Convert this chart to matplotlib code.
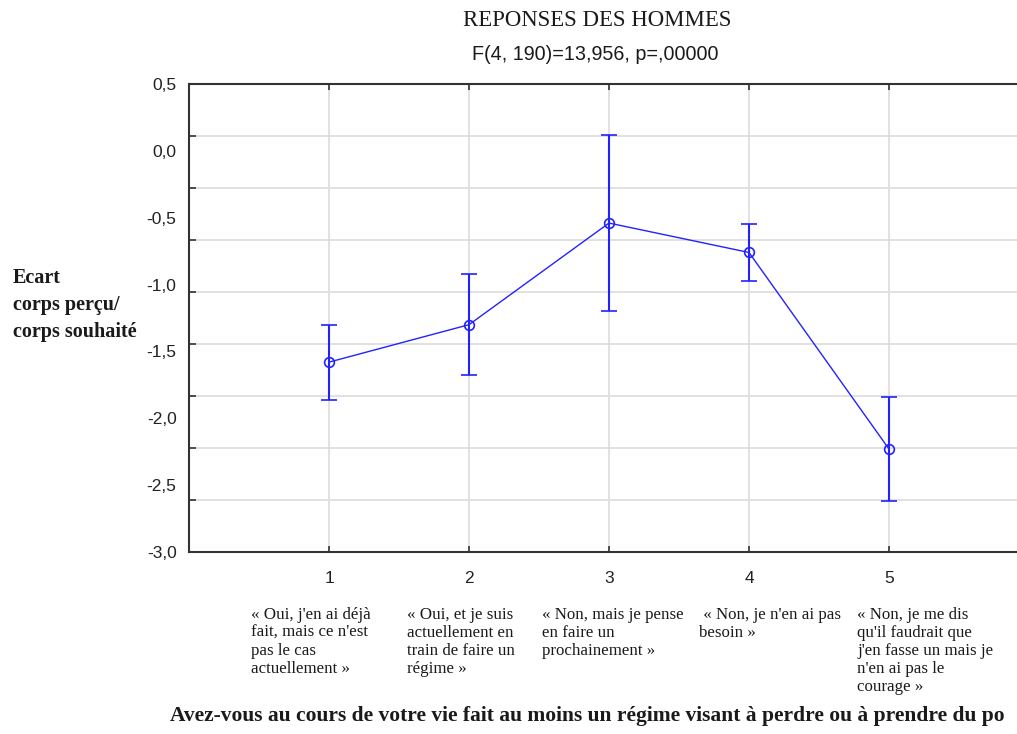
import numpy as np
import matplotlib.pyplot as plt

# group means and error half-widths
categories = [1, 2, 3, 4, 5]
means = [-1.58, -1.30, -0.54, -0.76, -2.23]
errors = [0.28, 0.38, 0.66, 0.21, 0.39]

y_tick_values = [0.5, 0.0, -0.5, -1.0, -1.5, -2.0, -2.5, -3.0]
y_tick_labels = ['0,5', '0,0', '-0,5', '-1,0', '-1,5', '-2,0', '-2,5', '-3,0']
x_tick_labels = ['1', '2', '3', '4', '5']

answers = [
    "« Oui, j'en ai déjà\nfait, mais ce n'est\npas le cas\nactuellement »",
    "« Oui, et je suis\nactuellement en\ntrain de faire un\nrégime »",
    "« Non, mais je pense\nen faire un\nprochainement »",
    " « Non, je n'en ai pas\nbesoin »",
    "« Non, je me dis\nqu'il faudrait que\nj'en fasse un mais je\nn'en ai pas le\ncourage »",
]
answer_x = [251, 407, 542, 699, 857]

title = 'REPONSES DES HOMMES'
subtitle = 'F(4, 190)=13,956, p=,00000'
ylabel = 'Ecart\ncorps perçu/\ncorps souhaité'
# the question is cut at the right edge in the source image
question = ('Avez-vous au cours de votre vie fait au moins un régime visant '
            'à perdre ou à prendre du po')

W, H = 1017, 734
fig = plt.figure(figsize=(W / 100, H / 100), dpi=100)
ax = fig.add_axes([189 / W, 1 - 552 / H, 840 / W, 468 / H])

ax.set_xlim(0, 6)
ax.set_ylim(-3.0, 0.5)

ax.errorbar(categories, means, yerr=errors, fmt='-o', color='#2222ff',
            mfc='none', mec='#2222ff', ms=7, mew=1.2, lw=1.0,
            elinewidth=1.5, capsize=6, capthick=1.5, zorder=3)

# labels on major ticks, grid lines (9 divisions) on minor ticks
ax.set_xticks(categories)
ax.set_xticklabels(x_tick_labels, fontsize=12.5, family='Liberation Sans',
                   color='#222222')
ax.set_yticks(y_tick_values)
ax.set_yticklabels(y_tick_labels, fontsize=12.5, family='Liberation Sans',
                   color='#222222')
ax.set_yticks(np.linspace(-3.0, 0.5, 10), minor=True)
ax.tick_params(axis='x', which='major', direction='in', length=4,
               width=1.2, color='#333333', top=True, pad=14)
ax.tick_params(axis='y', which='major', length=0, pad=9)
ax.tick_params(axis='y', which='minor', direction='in', length=5,
               width=1.2, color='#333333')
ax.grid(True, axis='x', which='major', color='#dcdcdc', lw=1.2)
ax.grid(True, axis='y', which='minor', color='#dcdcdc', lw=1.2)
ax.set_axisbelow(True)

for side in ['left', 'bottom', 'top']:
    ax.spines[side].set_color('#333333')
    ax.spines[side].set_linewidth(1.5)
ax.spines['right'].set_visible(False)

# texts
fig.text(597 / W, 1 - 20 / H, title, ha='center', va='center',
         family='Liberation Serif', fontsize=16.4, color='#1a1a1a')
fig.text(595 / W, 1 - 55 / H, subtitle, ha='center', va='center',
         family='Liberation Sans', fontsize=14.2, color='#1a1a1a')
fig.text(13 / W, 1 - 268 / H, ylabel, ha='left', va='top',
         family='Liberation Serif', fontweight='bold', fontsize=14.5,
         linespacing=1.48, color='#1a1a1a')

for label, x in zip(answers, answer_x):
    fig.text(x / W, 1 - 607 / H, label, ha='left', va='top',
             family='Liberation Serif', fontsize=12.2, linespacing=1.16,
             color='#1a1a1a')

fig.text(170 / W, 1 - 716 / H, question, ha='left', va='center',
         family='Liberation Serif', fontweight='bold', fontsize=15.5,
         color='#1a1a1a')

fig.savefig('out.png', dpi=100)
